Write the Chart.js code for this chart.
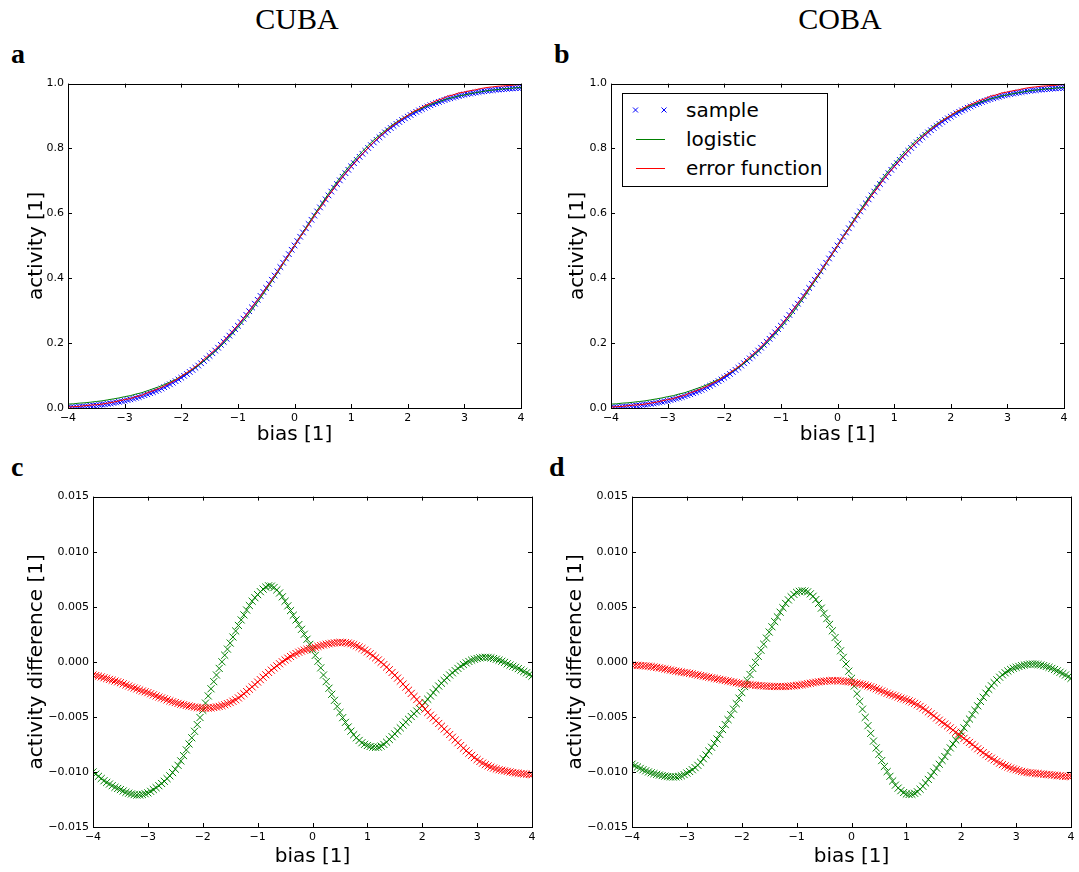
<!DOCTYPE html>
<html><head><meta charset="utf-8">
<script src="https://cdn.jsdelivr.net/npm/chart.js@4.4.1/dist/chart.umd.min.js"></script>
<style>
html,body{margin:0;padding:0;background:#fff;width:1079px;height:872px;overflow:hidden;position:relative;font-family:'DejaVu Sans',sans-serif;color:#000;}
canvas.pane{position:absolute;}
.col{position:absolute;font-family:'Liberation Serif',serif;font-size:30px;line-height:30px;top:4px;transform:translateX(-50%);white-space:nowrap;}
.lab{position:absolute;font-family:'Liberation Serif',serif;font-weight:bold;font-size:28px;line-height:28px;}
#legend{position:absolute;left:622px;top:93px;width:206px;height:94px;box-sizing:border-box;border:1px solid #000;background:#fff;z-index:5;}
#legend svg{position:absolute;left:0;top:0;}
.lt{position:absolute;left:63px;font-family:'DejaVu Sans',sans-serif;font-size:20px;line-height:24px;white-space:nowrap;}
</style></head>
<body>
<div class="col" style="left:297px">CUBA</div>
<div class="col" style="left:840px">COBA</div>
<div class="lab" style="left:11px;top:40px">a</div>
<div class="lab" style="left:554px;top:40px">b</div>
<div class="lab" style="left:11px;top:453px">c</div>
<div class="lab" style="left:549px;top:453px">d</div>
<canvas id="ca" class="pane"></canvas>
<canvas id="cb" class="pane"></canvas>
<canvas id="cc" class="pane"></canvas>
<canvas id="cd" class="pane"></canvas>
<div id="legend">
  <svg width="204" height="92">
    <g stroke="#0000ff" stroke-width="1">
      <path d="M10,13.5 L15,18.5 M15,13.5 L10,18.5"/>
      <path d="M38.5,13.5 L43.5,18.5 M43.5,13.5 L38.5,18.5"/>
    </g>
    <path d="M13,45.5 L42,45.5" stroke="#008000" stroke-width="1"/>
    <path d="M13,74.5 L42,74.5" stroke="#ff0000" stroke-width="1"/>
  </svg>
  <div class="lt" style="top:4px">sample</div>
  <div class="lt" style="top:33px">logistic</div>
  <div class="lt" style="top:62px">error function</div>
</div>
<script>
// ---------------- data ----------------
// bias grid of the fitted curves
const bias = [-4.0,-3.9,-3.8,-3.7,-3.6,-3.5,-3.4,-3.3,-3.2,-3.1,-3.0,-2.9,-2.8,-2.7,-2.6,-2.5,-2.4,-2.3,-2.2,-2.1,
  -2.0,-1.9,-1.8,-1.7,-1.6,-1.5,-1.4,-1.3,-1.2,-1.1,-1.0,-0.9,-0.8,-0.7,-0.6,-0.5,-0.4,-0.3,-0.2,-0.1,
  0.0,0.1,0.2,0.3,0.4,0.5,0.6,0.7,0.8,0.9,1.0,1.1,1.2,1.3,1.4,1.5,1.6,1.7,1.8,1.9,
  2.0,2.1,2.2,2.3,2.4,2.5,2.6,2.7,2.8,2.9,3.0,3.1,3.2,3.3,3.4,3.5,3.6,3.7,3.8,3.9,4.0];

// bias grid of the samples
const biasSample = [-4,-3.95,-3.9,-3.85,-3.8,-3.75,-3.7,-3.65,-3.6,-3.55,
  -3.5,-3.45,-3.4,-3.35,-3.3,-3.25,-3.2,-3.15,-3.1,-3.05,
  -3,-2.95,-2.9,-2.85,-2.8,-2.75,-2.7,-2.65,-2.6,-2.55,
  -2.5,-2.45,-2.4,-2.35,-2.3,-2.25,-2.2,-2.15,-2.1,-2.05,
  -2,-1.95,-1.9,-1.85,-1.8,-1.75,-1.7,-1.65,-1.6,-1.55,
  -1.5,-1.45,-1.4,-1.35,-1.3,-1.25,-1.2,-1.15,-1.1,-1.05,
  -1,-0.95,-0.9,-0.85,-0.8,-0.75,-0.7,-0.65,-0.6,-0.55,
  -0.5,-0.45,-0.4,-0.35,-0.3,-0.25,-0.2,-0.15,-0.1,-0.05,
  0,0.05,0.1,0.15,0.2,0.25,0.3,0.35,0.4,0.45,
  0.5,0.55,0.6,0.65,0.7,0.75,0.8,0.85,0.9,0.95,
  1,1.05,1.1,1.15,1.2,1.25,1.3,1.35,1.4,1.45,
  1.5,1.55,1.6,1.65,1.7,1.75,1.8,1.85,1.9,1.95,
  2,2.05,2.1,2.15,2.2,2.25,2.3,2.35,2.4,2.45,
  2.5,2.55,2.6,2.65,2.7,2.75,2.8,2.85,2.9,2.95,
  3,3.05,3.1,3.15,3.2,3.25,3.3,3.35,3.4,3.45,
  3.5,3.55,3.6,3.65,3.7,3.75,3.8,3.85,3.9,3.95,
  4];

// activity (panels a, b)
const sampleActivity = [0.0016,0.0021,0.0026,0.0031,0.0037,0.0043,0.0050,0.0058,0.0066,0.0075,
  0.0084,0.0095,0.0106,0.0117,0.0129,0.0143,0.0157,0.0173,0.0190,0.0208,
  0.0226,0.0247,0.0268,0.0291,0.0315,0.0340,0.0366,0.0395,0.0424,0.0456,
  0.0488,0.0524,0.0560,0.0600,0.0641,0.0685,0.0730,0.0778,0.0827,0.0880,
  0.0934,0.0991,0.1049,0.1111,0.1174,0.1241,0.1308,0.1379,0.1451,0.1528,
  0.1606,0.1688,0.1771,0.1859,0.1947,0.2040,0.2133,0.2231,0.2330,0.2433,
  0.2537,0.2646,0.2755,0.2869,0.2983,0.3100,0.3216,0.3335,0.3455,0.3577,
  0.3700,0.3826,0.3953,0.4082,0.4212,0.4344,0.4477,0.4610,0.4743,0.4877,
  0.5011,0.5145,0.5279,0.5410,0.5541,0.5672,0.5802,0.5931,0.6059,0.6184,
  0.6309,0.6431,0.6553,0.6671,0.6789,0.6903,0.7017,0.7128,0.7238,0.7343,
  0.7448,0.7548,0.7648,0.7743,0.7837,0.7927,0.8016,0.8102,0.8187,0.8267,
  0.8346,0.8421,0.8495,0.8563,0.8631,0.8695,0.8758,0.8817,0.8875,0.8929,
  0.8982,0.9032,0.9082,0.9128,0.9173,0.9215,0.9257,0.9295,0.9333,0.9368,
  0.9403,0.9434,0.9465,0.9494,0.9522,0.9547,0.9572,0.9595,0.9618,0.9638,
  0.9658,0.9676,0.9694,0.9710,0.9726,0.9740,0.9754,0.9766,0.9778,0.9789,
  0.9800,0.9809,0.9817,0.9826,0.9834,0.9841,0.9848,0.9854,0.9860,0.9866,
  0.9871];
const logisticActivity = [0.012,0.013,0.015,0.016,0.018,0.020,0.022,0.025,0.028,0.031,
  0.035,0.038,0.043,0.047,0.053,0.059,0.065,0.072,0.080,0.088,
  0.098,0.108,0.119,0.131,0.145,0.159,0.174,0.191,0.209,0.228,
  0.248,0.269,0.291,0.315,0.339,0.365,0.391,0.417,0.445,0.472,
  0.500,0.528,0.555,0.583,0.609,0.635,0.661,0.685,0.709,0.731,
  0.752,0.772,0.791,0.809,0.826,0.841,0.855,0.869,0.881,0.892,
  0.902,0.912,0.920,0.928,0.935,0.941,0.947,0.953,0.957,0.962,
  0.965,0.969,0.972,0.975,0.978,0.980,0.982,0.984,0.985,0.987,0.988];
const erfActivity = [0.003,0.004,0.005,0.007,0.009,0.010,0.012,0.015,0.018,0.022,
  0.026,0.029,0.035,0.039,0.047,0.053,0.060,0.068,0.077,0.086,
  0.098,0.109,0.121,0.134,0.150,0.165,0.180,0.198,0.217,0.236,
  0.256,0.277,0.299,0.323,0.345,0.370,0.395,0.420,0.447,0.473,
  0.500,0.527,0.552,0.579,0.604,0.628,0.654,0.677,0.701,0.723,
  0.743,0.763,0.783,0.802,0.820,0.836,0.851,0.866,0.879,0.891,
  0.902,0.914,0.922,0.932,0.939,0.947,0.953,0.961,0.965,0.971,
  0.974,0.978,0.981,0.985,0.988,0.990,0.992,0.993,0.994,0.996,0.997];

// activity difference, CUBA (panel c)
const cubaLogisticDiff = [-0.01000,-0.01020,-0.01040,-0.01060,-0.01080,-0.01095,-0.01110,-0.01125,-0.01140,-0.01150,
  -0.01160,-0.01173,-0.01185,-0.01193,-0.01200,-0.01206,-0.01210,-0.01209,-0.01205,-0.01198,
  -0.01190,-0.01176,-0.01160,-0.01143,-0.01125,-0.01105,-0.01085,-0.01061,-0.01035,-0.01006,
  -0.00975,-0.00940,-0.00900,-0.00852,-0.00800,-0.00746,-0.00690,-0.00631,-0.00570,-0.00506,
  -0.00440,-0.00375,-0.00310,-0.00245,-0.00180,-0.00120,-0.00060,0.00000,0.00060,0.00115,
  0.00170,0.00225,0.00280,0.00330,0.00380,0.00426,0.00470,0.00511,0.00550,0.00582,
  0.00610,0.00637,0.00660,0.00678,0.00690,0.00687,0.00675,0.00653,0.00625,0.00590,
  0.00550,0.00508,0.00465,0.00423,0.00380,0.00338,0.00295,0.00250,0.00205,0.00158,
  0.00110,0.00058,0.00005,-0.00055,-0.00120,-0.00180,-0.00240,-0.00295,-0.00350,-0.00405,
  -0.00460,-0.00507,-0.00550,-0.00592,-0.00630,-0.00662,-0.00690,-0.00714,-0.00735,-0.00749,
  -0.00760,-0.00769,-0.00775,-0.00777,-0.00775,-0.00765,-0.00750,-0.00730,-0.00705,-0.00680,
  -0.00655,-0.00628,-0.00600,-0.00574,-0.00548,-0.00522,-0.00497,-0.00472,-0.00447,-0.00423,
  -0.00397,-0.00369,-0.00340,-0.00310,-0.00280,-0.00250,-0.00220,-0.00195,-0.00170,-0.00145,
  -0.00120,-0.00100,-0.00080,-0.00060,-0.00040,-0.00025,-0.00010,0.00003,0.00015,0.00023,
  0.00030,0.00036,0.00040,0.00041,0.00040,0.00036,0.00030,0.00023,0.00015,0.00005,
  -0.00005,-0.00018,-0.00030,-0.00040,-0.00050,-0.00062,-0.00075,-0.00088,-0.00100,-0.00115,
  -0.00130];
const cubaErfDiff = [-0.00120,-0.00125,-0.00130,-0.00137,-0.00145,-0.00152,-0.00160,-0.00167,-0.00175,-0.00182,
  -0.00190,-0.00200,-0.00210,-0.00220,-0.00230,-0.00238,-0.00246,-0.00256,-0.00265,-0.00272,
  -0.00280,-0.00290,-0.00300,-0.00310,-0.00320,-0.00328,-0.00336,-0.00346,-0.00355,-0.00363,
  -0.00370,-0.00378,-0.00385,-0.00390,-0.00396,-0.00401,-0.00406,-0.00411,-0.00415,-0.00418,
  -0.00420,-0.00421,-0.00420,-0.00418,-0.00415,-0.00410,-0.00405,-0.00398,-0.00390,-0.00380,
  -0.00370,-0.00358,-0.00345,-0.00328,-0.00310,-0.00290,-0.00270,-0.00249,-0.00228,-0.00206,
  -0.00184,-0.00162,-0.00140,-0.00118,-0.00097,-0.00076,-0.00056,-0.00037,-0.00018,0.00000,
  0.00017,0.00033,0.00048,0.00062,0.00075,0.00087,0.00097,0.00106,0.00113,0.00120,
  0.00126,0.00133,0.00140,0.00147,0.00153,0.00159,0.00164,0.00168,0.00172,0.00175,
  0.00176,0.00176,0.00174,0.00170,0.00164,0.00156,0.00146,0.00134,0.00121,0.00106,
  0.00090,0.00073,0.00055,0.00036,0.00017,-0.00004,-0.00025,-0.00048,-0.00072,-0.00097,
  -0.00122,-0.00148,-0.00175,-0.00202,-0.00230,-0.00258,-0.00287,-0.00315,-0.00343,-0.00372,
  -0.00400,-0.00430,-0.00460,-0.00485,-0.00510,-0.00535,-0.00560,-0.00585,-0.00610,-0.00635,
  -0.00660,-0.00685,-0.00710,-0.00735,-0.00760,-0.00785,-0.00808,-0.00830,-0.00850,-0.00870,
  -0.00888,-0.00905,-0.00920,-0.00933,-0.00945,-0.00956,-0.00965,-0.00973,-0.00980,-0.00985,
  -0.00990,-0.00995,-0.01000,-0.01005,-0.01009,-0.01012,-0.01015,-0.01018,-0.01020,-0.01023,
  -0.01025];

// activity difference, COBA (panel d)
const cobaLogisticDiff = [-0.00930,-0.00943,-0.00955,-0.00968,-0.00980,-0.00990,-0.01000,-0.01008,-0.01015,-0.01022,
  -0.01028,-0.01033,-0.01038,-0.01042,-0.01045,-0.01046,-0.01045,-0.01041,-0.01035,-0.01024,
  -0.01010,-0.00996,-0.00980,-0.00961,-0.00940,-0.00912,-0.00880,-0.00846,-0.00810,-0.00776,
  -0.00740,-0.00701,-0.00660,-0.00615,-0.00570,-0.00525,-0.00480,-0.00430,-0.00380,-0.00330,
  -0.00280,-0.00225,-0.00170,-0.00115,-0.00060,-0.00005,0.00050,0.00105,0.00160,0.00215,
  0.00270,0.00318,0.00365,0.00408,0.00450,0.00491,0.00530,0.00562,0.00590,0.00612,
  0.00630,0.00640,0.00645,0.00642,0.00635,0.00617,0.00595,0.00565,0.00530,0.00487,
  0.00440,0.00392,0.00340,0.00281,0.00220,0.00160,0.00100,0.00040,-0.00020,-0.00085,
  -0.00150,-0.00220,-0.00290,-0.00360,-0.00430,-0.00505,-0.00580,-0.00650,-0.00720,-0.00782,
  -0.00840,-0.00897,-0.00950,-0.00997,-0.01040,-0.01082,-0.01120,-0.01147,-0.01170,-0.01187,
  -0.01200,-0.01205,-0.01203,-0.01194,-0.01180,-0.01157,-0.01130,-0.01100,-0.01068,-0.01034,
  -0.01000,-0.00965,-0.00930,-0.00895,-0.00860,-0.00820,-0.00782,-0.00746,-0.00710,-0.00675,
  -0.00640,-0.00600,-0.00560,-0.00520,-0.00480,-0.00440,-0.00400,-0.00360,-0.00322,-0.00285,
  -0.00250,-0.00218,-0.00190,-0.00164,-0.00140,-0.00118,-0.00100,-0.00084,-0.00070,-0.00059,
  -0.00050,-0.00042,-0.00035,-0.00029,-0.00025,-0.00021,-0.00020,-0.00021,-0.00025,-0.00029,
  -0.00035,-0.00042,-0.00050,-0.00060,-0.00070,-0.00082,-0.00095,-0.00107,-0.00120,-0.00135,
  -0.00150];
const cobaErfDiff = [-0.00030,-0.00031,-0.00032,-0.00034,-0.00036,-0.00038,-0.00040,-0.00043,-0.00047,-0.00051,
  -0.00055,-0.00060,-0.00065,-0.00070,-0.00075,-0.00080,-0.00085,-0.00089,-0.00093,-0.00097,
  -0.00100,-0.00105,-0.00110,-0.00115,-0.00120,-0.00125,-0.00130,-0.00135,-0.00140,-0.00145,
  -0.00150,-0.00155,-0.00160,-0.00165,-0.00170,-0.00175,-0.00180,-0.00185,-0.00190,-0.00195,
  -0.00200,-0.00203,-0.00205,-0.00208,-0.00210,-0.00213,-0.00215,-0.00218,-0.00220,-0.00221,
  -0.00222,-0.00223,-0.00224,-0.00225,-0.00225,-0.00225,-0.00224,-0.00222,-0.00220,-0.00218,
  -0.00215,-0.00212,-0.00208,-0.00204,-0.00199,-0.00195,-0.00190,-0.00186,-0.00182,-0.00179,
  -0.00176,-0.00174,-0.00172,-0.00171,-0.00171,-0.00172,-0.00173,-0.00175,-0.00178,-0.00181,
  -0.00185,-0.00190,-0.00195,-0.00200,-0.00205,-0.00212,-0.00220,-0.00227,-0.00235,-0.00245,
  -0.00255,-0.00265,-0.00275,-0.00285,-0.00295,-0.00302,-0.00310,-0.00320,-0.00330,-0.00337,
  -0.00345,-0.00355,-0.00365,-0.00377,-0.00390,-0.00405,-0.00420,-0.00437,-0.00455,-0.00472,
  -0.00490,-0.00510,-0.00530,-0.00548,-0.00565,-0.00582,-0.00600,-0.00620,-0.00640,-0.00657,
  -0.00675,-0.00695,-0.00715,-0.00732,-0.00750,-0.00770,-0.00790,-0.00807,-0.00825,-0.00843,
  -0.00860,-0.00875,-0.00890,-0.00905,-0.00920,-0.00933,-0.00945,-0.00955,-0.00965,-0.00973,
  -0.00980,-0.00988,-0.00995,-0.01000,-0.01005,-0.01008,-0.01010,-0.01013,-0.01015,-0.01018,
  -0.01020,-0.01023,-0.01025,-0.01028,-0.01030,-0.01033,-0.01035,-0.01038,-0.01040,-0.01040,
  -0.01040];

const biasTicks = [-4,-3,-2,-1,0,1,2,3,4];
const activityTicks = [0.0, 0.2, 0.4, 0.6, 0.8, 1.0];
const diffTicks = [-0.015, -0.010, -0.005, 0.0, 0.005, 0.010, 0.015];

// ---------------- rendering ----------------
Chart.defaults.font.family = "'DejaVu Sans', sans-serif";
Chart.defaults.color = '#000';

const MINUS = '\u2212';
const fmtX = v => (v < 0 ? MINUS + Math.abs(v) : String(v));
const fmt1 = v => (Math.abs(v) < 1e-12 ? 0 : v).toFixed(1).replace('-', MINUS);
const fmt3 = v => (Math.abs(v) < 1e-12 ? 0 : v).toFixed(3).replace('-', MINUS);

const frame = {
  id: 'frame',
  afterDatasetsDraw(chart) {
    const {ctx, chartArea: a, scales: {x, y}} = chart;
    const TL = 4;
    ctx.save();
    ctx.strokeStyle = '#000';
    ctx.lineWidth = 1;
    ctx.beginPath();
    x.ticks.forEach((t, i) => {
      const px = Math.round(x.getPixelForTick(i)) + 0.5;
      ctx.moveTo(px, a.bottom); ctx.lineTo(px, a.bottom - TL);
      ctx.moveTo(px, a.top); ctx.lineTo(px, a.top + TL);
    });
    y.ticks.forEach((t, i) => {
      const py = Math.round(y.getPixelForTick(i)) + 0.5;
      ctx.moveTo(a.left, py); ctx.lineTo(a.left + TL, py);
      ctx.moveTo(a.right, py); ctx.lineTo(a.right - TL, py);
    });
    ctx.stroke();
    ctx.strokeRect(Math.round(a.left) + 0.5, Math.round(a.top) + 0.5,
                   Math.round(a.right - a.left), Math.round(a.bottom - a.top));
    ctx.restore();
  }
};

const pts = (xs, arr) => xs.map((b, i) => ({x: b, y: arr[i]}));

function panel(id, g, cfg) {
  const yW = 90, xH = 45, padT = 10, padR = 10;
  const w = g.R - g.L + yW + padR, h = g.B - g.T + padT + xH;
  const cv = document.getElementById(id);
  cv.width = w; cv.height = h;
  cv.style.left = (g.L - yW) + 'px';
  cv.style.top = (g.T - padT) + 'px';
  cv.style.width = w + 'px'; cv.style.height = h + 'px';
  new Chart(cv, {
    type: 'scatter',
    data: {datasets: cfg.datasets},
    options: {
      responsive: false, animation: false, devicePixelRatio: 1,
      layout: {padding: {left: 0, top: padT, right: padR, bottom: 0}},
      plugins: {legend: {display: false}, tooltip: {enabled: false}},
      scales: {
        x: {
          type: 'linear', min: -4, max: 4,
          grid: {display: false, drawTicks: false}, border: {display: false},
          afterBuildTicks: s => { s.ticks = biasTicks.map(v => ({value: v})); },
          ticks: {color: '#000', font: {size: 11}, padding: 4, maxRotation: 0, autoSkip: false, callback: fmtX},
          title: {display: true, text: 'bias [1]', color: '#000', font: {size: 20}, padding: {top: 0, bottom: cfg.xPad}},
          afterFit: s => { s.height = xH; }
        },
        y: {
          type: 'linear', min: cfg.yMin, max: cfg.yMax,
          grid: {display: false, drawTicks: false}, border: {display: false},
          afterBuildTicks: s => { s.ticks = cfg.yTicks.map(v => ({value: v})); },
          ticks: {color: '#000', font: {size: 11}, padding: 4, autoSkip: false, callback: cfg.yFmt},
          title: {display: true, text: cfg.yTitle, color: '#000', font: {size: 20}, padding: {top: cfg.yPad, bottom: 0}},
          afterFit: s => { s.width = yW; }
        }
      }
    },
    plugins: [frame]
  });
}

function topSets() {
  return [
    {data: pts(biasSample, sampleActivity), showLine: false, pointStyle: 'crossRot', pointRadius: 4, pointBorderWidth: 1,
     borderColor: '#0000ff', backgroundColor: '#0000ff', clip: 0, order: 3},
    {data: pts(bias, logisticActivity), showLine: true, pointRadius: 0, borderWidth: 1, borderColor: '#008000', clip: 0, order: 2},
    {data: pts(bias, erfActivity), showLine: true, pointRadius: 0, borderWidth: 1, borderColor: '#ff0000', clip: 0, order: 1}
  ];
}
function diffSets(gArr, rArr) {
  return [
    {data: pts(biasSample, gArr), showLine: false, pointStyle: 'crossRot', pointRadius: 5, pointBorderWidth: 1,
     borderColor: '#008000', backgroundColor: '#008000', clip: 0, order: 2},
    {data: pts(biasSample, rArr), showLine: false, pointStyle: 'crossRot', pointRadius: 5, pointBorderWidth: 1,
     borderColor: '#ff0000', backgroundColor: '#ff0000', clip: 0, order: 1}
  ];
}

panel('ca', {L: 68, R: 521, T: 83, B: 408}, {datasets: topSets(), yMin: 0, yMax: 1, yTicks: activityTicks, yFmt: fmt1,
  yTitle: 'activity [1]', yPad: 47, xPad: 6});
panel('cb', {L: 611, R: 1064, T: 83, B: 408}, {datasets: topSets(), yMin: 0, yMax: 1, yTicks: activityTicks, yFmt: fmt1,
  yTitle: 'activity [1]', yPad: 45, xPad: 6});
panel('cc', {L: 93, R: 532, T: 496, B: 827}, {datasets: diffSets(cubaLogisticDiff, cubaErfDiff), yMin: -0.015, yMax: 0.015,
  yTicks: diffTicks, yFmt: fmt3, yTitle: 'activity difference [1]', yPad: 22, xPad: 3});
panel('cd', {L: 632, R: 1071, T: 496, B: 827}, {datasets: diffSets(cobaLogisticDiff, cobaErfDiff), yMin: -0.015, yMax: 0.015,
  yTicks: diffTicks, yFmt: fmt3, yTitle: 'activity difference [1]', yPad: 22, xPad: 3});
</script>
</body></html>
